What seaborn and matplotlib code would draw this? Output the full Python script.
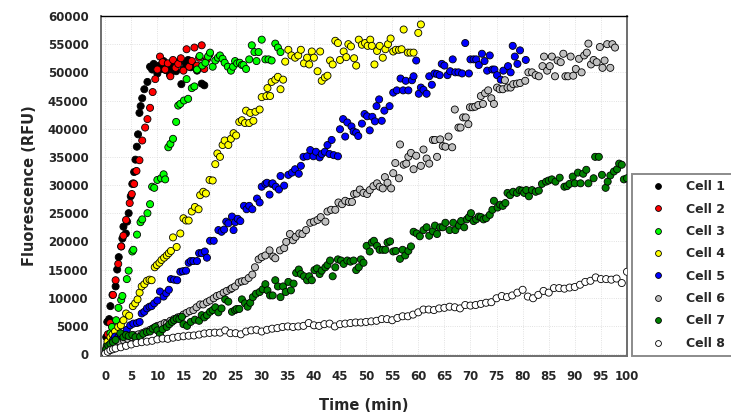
import matplotlib
matplotlib.use("Agg")
import matplotlib.pyplot as plt
import seaborn as sns
import pandas as pd
from matplotlib.lines import Line2D

# ---------------- data ----------------
cell_names = ["Cell 1", "Cell 2", "Cell 3", "Cell 4", "Cell 5", "Cell 6", "Cell 7", "Cell 8"]
cell_colors = ["#000000", "#FF0000", "#00FF00", "#FFFF00", "#0000FF", "#C0C0C0", "#008000", "#FFFFFF"]

cell1_t = [0.2, 0.4, 0.77, 1.0, 1.4, 2.0, 2.3, 2.6, 3.07, 3.3, 3.5, 3.96, 4.2, 4.5, 4.9, 5.2, 5.55, 5.8, 6.07, 6.3,
           6.57, 6.8, 7.1, 7.5, 8.1, 8.6, 9.0, 9.3, 9.6, 10.0, 10.4, 10.8, 11.2, 11.6, 12.0, 12.4, 12.8, 13.2, 13.6,
           14.0, 14.6, 15.0, 15.4, 15.9, 16.4, 17.0, 17.6, 18.5, 19.0]
cell1_v = [3000, 5700, 6200, 8500, 10500, 12000, 15000, 17200, 19100, 20500, 22600, 21400, 23500, 25000, 28000, 30200,
           32300, 34500, 36800, 39000, 42800, 44000, 45400, 47000, 48300, 51000, 50500, 51500, 50800, 49800, 51200,
           50600, 52000, 50400, 51000, 49600, 50800, 51500, 50200, 51800, 47900, 50500, 51600, 52200, 50900, 51300,
           50300, 48000, 47700]

cell2_t = [0.5, 0.96, 1.5, 2.0, 2.5, 3.07, 3.5, 4.0, 4.7, 5.1, 5.4, 5.55, 6.0, 6.57, 7.1, 7.66, 8.1, 8.6, 9.1, 9.6,
           10.0, 10.5, 11.0, 11.5, 12.0, 12.5, 13.0, 13.5, 14.0, 14.5, 15.0, 15.6, 16.1, 16.6, 17.1, 17.6, 18.0, 18.5,
           19.0, 19.5, 20.0]
cell2_v = [3500, 5500, 10500, 13100, 16000, 19100, 21000, 23800, 26800, 28400, 30300, 30200, 32500, 34400, 37900, 40200,
           41700, 43700, 46500, 48800, 50500, 52800, 51800, 50500, 51600, 49300, 52200, 50800, 51500, 52500, 50300,
           54100, 51000, 52000, 54400, 51200, 52600, 54800, 50600, 52300, 53200]

cell3_t = [0.3, 1.0, 1.3, 2.1, 2.55, 3.07, 3.3, 4.15, 4.5, 5.2, 5.4, 6.1, 6.77, 7.1, 8.1, 8.6, 9.0, 9.4, 10.0, 10.7,
           11.2, 11.5, 12.1, 12.5, 13.0, 13.6, 14.0, 14.4, 15.1, 15.6, 15.9, 16.6, 17.1, 17.6, 18.1, 18.6, 19.2, 19.7,
           20.1, 20.6, 21.1, 21.6, 22.0, 22.5, 22.9, 23.5, 24.1, 24.5, 24.9, 25.3, 25.8, 26.2, 26.5, 27.0, 27.6, 28.1,
           28.6, 29.0, 29.4, 30.0, 30.7, 31.3, 31.9, 32.6, 33.1, 33.6]
cell3_v = [1500, 3700, 4800, 6000, 8200, 9600, 10300, 13300, 14800, 18200, 18500, 21200, 23400, 23900, 25000, 26600,
           29700, 29500, 30900, 31200, 31900, 31000, 36700, 37300, 38200, 41200, 44100, 44400, 45000, 48800, 45300,
           47200, 47500, 50500, 52900, 51200, 51700, 52800, 53500, 51000, 52100, 52600, 53000, 52400, 51700, 51000,
           50300, 51000, 52000, 51600, 51700, 51300, 51300, 50600, 52300, 54800, 53600, 52000, 53600, 55800, 52300,
           52300, 52100, 55100, 54400, 53600]

cell4_t = [0.2, 0.44, 1.0, 1.4, 1.9, 2.5, 3.0, 3.5, 4.0, 4.6, 5.3, 5.75, 6.2, 6.6, 7.0, 7.5, 8.0, 8.5, 8.9, 9.5, 9.9,
           10.4, 10.8, 11.3, 11.8, 12.2, 12.6, 13.0, 13.7, 14.4, 15.0, 15.5, 16.0, 16.6, 17.2, 17.9, 18.2, 18.8, 19.3,
           20.0, 20.6, 21.1, 21.5, 22.0, 22.5, 22.9, 23.6, 24.1, 24.6, 25.1, 25.7, 26.2, 26.8, 27.0, 27.6, 27.8, 28.4,
           28.8, 29.6, 30.0, 30.9, 31.1, 31.6, 31.9, 32.6, 33.1, 33.6, 34.1, 34.5, 35.1, 35.7, 36.4, 37.0, 37.5, 38.1,
           38.7, 39.1, 39.6, 40.0, 40.7, 41.2, 41.5, 42.1, 42.6, 43.1, 43.6, 44.1, 44.6, 45.0, 45.7, 46.2, 46.6, 47.1,
           47.7, 48.1, 48.6, 49.2, 49.8, 50.3, 50.8, 51.1, 51.6, 52.1, 52.6, 53.2, 53.7, 54.2, 54.7, 55.2, 55.7, 56.3,
           56.8, 57.2, 58.0, 58.5, 59.1, 60.0, 60.5]
cell4_v = [1000, 2200, 3000, 3500, 4000, 4800, 5100, 6000, 7200, 6800, 8500, 9000, 9700, 10900, 12000, 12400, 13000,
           13200, 13100, 15400, 15800, 16200, 16700, 17100, 17500, 17900, 18300, 20700, 19000, 21400, 24100, 23700,
           23700, 25300, 26100, 25700, 28200, 28800, 28500, 30900, 30800, 33700, 35600, 35000, 37100, 37900, 37100,
           38200, 39200, 38800, 41200, 41500, 41000, 43200, 41000, 42800, 41400, 43000, 43400, 45600, 45800, 47200,
           45800, 48300, 48700, 49200, 47000, 48700, 51900, 54000, 53000, 52600, 53000, 54000, 51600, 52600, 51400,
           53700, 52600, 50200, 53700, 48500, 49100, 49400, 52100, 51400, 55600, 55200, 52200, 53700, 52700, 55000,
           54600, 52500, 51200, 55800, 54900, 55200, 54700, 55800, 54700, 51400, 53800, 54700, 52600, 54100, 55000,
           56000, 53700, 54000, 54000, 54100, 57600, 53500, 53500, 53500, 57000, 58500]

cell5_t = [0.3, 1.0, 1.5, 1.9, 2.5, 3.0, 3.5, 4.15, 4.8, 5.4, 6.1, 6.6, 7.0, 7.5, 8.0, 8.5, 8.9, 9.4, 10.0, 10.5, 11.2,
           11.7, 12.2, 12.6, 13.2, 13.8, 14.4, 14.9, 15.5, 16.0, 16.4, 16.9, 17.6, 18.0, 18.5, 19.1, 19.5, 20.1, 20.8,
           21.7, 22.3, 22.8, 23.2, 23.6, 24.3, 24.6, 24.9, 25.4, 25.9, 26.6, 27.1, 27.6, 28.2, 29.1, 29.6, 30.0, 30.7,
           31.0, 31.5, 31.9, 32.1, 32.7, 33.3, 33.6, 34.3, 35.1, 35.8, 36.4, 37.1, 37.5, 38.0, 38.7, 39.3, 39.9, 40.4,
           41.1, 41.5, 42.1, 42.6, 43.0, 43.4, 43.8, 44.6, 45.0, 45.6, 46.0, 46.4, 47.2, 47.6, 48.1, 48.5, 49.2, 49.7,
           50.2, 50.7, 51.2, 51.7, 52.0, 52.5, 53.0, 53.5, 54.5, 55.2, 55.9, 56.6, 57.1, 57.6, 58.1, 58.8, 59.1, 59.6,
           60.1, 60.5, 61.0, 61.6, 62.1, 62.6, 63.1, 63.6, 64.1, 64.5, 65.0, 65.6, 66.1, 66.6, 67.1, 67.7, 68.4, 69.0,
           69.7, 70.0, 70.6, 71.1, 71.6, 72.2, 72.7, 73.2, 73.7, 74.2, 74.6, 75.1, 75.8, 76.3, 77.2, 77.7, 78.1, 78.5,
           79.0, 79.5, 80.6]
cell5_v = [500, 1600, 2500, 3100, 3000, 3300, 3100, 4300, 5100, 5400, 5500, 5700, 7200, 7500, 8100, 8400, 8500, 9000,
           9500, 11100, 10200, 10800, 11400, 13300, 13200, 13100, 14600, 14700, 14800, 16200, 16500, 16500, 16500,
           17900, 17900, 18200, 17100, 20100, 20100, 22000, 21700, 22100, 23500, 23200, 24400, 22000, 23400, 24000,
           23600, 26300, 25700, 26300, 25700, 27600, 26900, 29700, 30200, 30400, 28300, 30200, 30300, 29700, 29200,
           31600, 29900, 31800, 32200, 32800, 32000, 33400, 35000, 35100, 36200, 35100, 35900, 34900, 35500, 35900,
           37100, 35500, 38000, 35300, 35100, 39900, 41700, 38600, 41100, 40400, 39500, 39300, 38700, 40900, 42600,
           42200, 39700, 42100, 41300, 44000, 45200, 41400, 43200, 44000, 46400, 46800, 48900, 46800, 48500, 46800,
           48600, 49300, 52100, 46200, 47300, 46900, 46200, 49300, 47800, 49800, 49700, 49500, 51500, 51200, 49500,
           50200, 52300, 50000, 50000, 49800, 55200, 49800, 52300, 52300, 52300, 51300, 53300, 52000, 50300, 53000,
           50500, 50500, 49500, 48700, 50300, 51100, 50000, 54700, 52800, 51500, 53900, 52200]

cell6_t = [0.2, 0.8, 1.5, 2.2, 2.9, 3.6, 4.3, 5.0, 5.7, 6.4, 7.1, 7.8, 8.6, 9.3, 10.0, 10.7, 11.4, 11.8, 12.5, 13.2,
           13.9, 14.4, 15.0, 15.6, 16.2, 16.9, 17.5, 18.2, 18.8, 19.5, 20.1, 20.8, 21.4, 22.0, 22.7, 23.3, 24.0, 24.3,
           24.9, 25.6, 26.2, 26.8, 27.5, 28.2, 28.7, 29.4, 30.0, 30.7, 31.5, 32.2, 32.6, 33.5, 34.3, 34.7, 35.4, 36.0,
           36.5, 37.2, 37.8, 38.5, 39.3, 40.0, 40.7, 41.3, 42.2, 42.6, 43.3, 44.1, 44.7, 45.4, 46.0, 46.7, 47.3, 47.7,
           48.2, 48.8, 49.5, 50.2, 50.7, 51.4, 52.1, 52.6, 53.2, 53.6, 54.1, 54.8, 55.2, 55.6, 56.3, 56.5, 57.2, 57.7,
           58.1, 58.6, 59.1, 59.6, 60.5, 61.0, 61.6, 62.1, 62.8, 63.2, 63.6, 64.2, 64.7, 65.2, 65.8, 66.5, 67.0, 67.7,
           68.1, 68.6, 69.1, 69.6, 69.9, 70.4, 70.9, 71.5, 72.0, 72.4, 72.8, 73.4, 74.0, 74.5, 75.1, 75.6, 76.2, 76.6,
           77.1, 77.7, 78.2, 78.9, 79.5, 80.5, 81.1, 81.8, 82.5, 83.1, 83.8, 84.1, 84.7, 85.2, 85.6, 86.2, 86.7, 87.3,
           87.8, 88.2, 88.7, 89.2, 89.7, 90.2, 90.8, 91.3, 91.8, 92.3, 92.6, 93.1, 93.6, 94.2, 94.8, 95.3, 95.7, 96.2,
           96.8, 97.2, 97.7]
cell6_v = [500, 900, 1200, 1600, 2000, 2400, 2700, 3000, 3300, 3500, 3700, 4000, 4300, 4600, 5000, 5200, 5500, 5400,
           5900, 6200, 6500, 6600, 7000, 7300, 7600, 7800, 8300, 8800, 8800, 9200, 9500, 9900, 10300, 10500, 10900,
           11200, 11500, 11700, 12000, 12700, 12900, 13000, 13500, 14100, 15400, 16800, 17200, 17500, 18400, 17300,
           17000, 18400, 18800, 19900, 21300, 20200, 20800, 21400, 21300, 22000, 23300, 23500, 23800, 24300, 23500,
           25300, 25600, 25600, 26900, 26600, 27200, 27000, 27000, 28400, 28500, 29200, 28600, 28400, 29100, 29800,
           30300, 29700, 29400, 31400, 30400, 29400, 32100, 33900, 31200, 37200, 33600, 33800, 35000, 35700, 32800,
           35200, 33400, 36300, 34700, 33800, 38000, 38000, 35000, 38100, 36900, 36800, 38600, 36700, 43400, 40200,
           40200, 42000, 42000, 40800, 43800, 43800, 43900, 44200, 45800, 44400, 46300, 46800, 45400, 44400, 47300,
           47000, 47000, 48600, 47300, 47300, 47900, 48000, 48100, 48500, 50000, 50000, 49500, 49300, 51100, 52800,
           50300, 51100, 52800, 49300, 52100, 51800, 53300, 49300, 49300, 52800, 49400, 50600, 52400, 50000, 53000,
           53500, 55100, 51400, 52200, 51800, 54500, 50800, 52100, 55000, 50800, 55000, 54400]

cell7_t = [0.2, 0.6, 1.0, 1.5, 2.0, 2.9, 3.5, 4.0, 4.5, 5.2, 5.8, 6.7, 7.3, 8.0, 8.6, 9.1, 9.6, 10.0, 10.5, 11.0,
           11.8, 12.3, 12.8, 13.2, 13.7, 14.2, 14.7, 15.0, 15.7, 16.4, 17.2, 18.0, 18.5, 19.0, 19.5, 20.1, 20.6, 21.1,
           21.7, 22.3, 23.0, 23.6, 24.3, 24.9, 25.2, 25.7, 26.2, 26.8, 27.3, 27.8, 28.3, 28.9, 29.6, 30.2, 30.7, 31.1,
           31.6, 32.1, 32.6, 33.1, 33.6, 34.1, 34.6, 35.1, 35.6, 36.1, 36.6, 37.1, 37.5, 38.1, 38.7, 39.1, 39.6, 40.1,
           40.6, 41.1, 41.5, 42.2, 42.6, 43.1, 43.6, 44.1, 44.6, 45.2, 45.7, 46.4, 47.0, 47.6, 48.1, 48.6, 49.0, 49.5,
           50.1, 50.7, 51.1, 51.5, 52.1, 52.6, 53.2, 53.7, 54.1, 54.6, 55.2, 55.7, 56.5, 57.0, 57.5, 58.1, 58.6, 59.1,
           59.7, 60.3, 61.0, 61.6, 62.1, 62.8, 63.2, 63.6, 64.2, 64.7, 65.2, 66.0, 66.7, 67.1, 67.8, 68.2, 68.8, 69.3,
           69.7, 70.1, 70.6, 71.1, 71.6, 72.0, 72.5, 73.0, 73.7, 74.2, 74.5, 75.2, 75.7, 76.2, 76.7, 77.1, 77.6, 78.2,
           78.9, 79.4, 79.9, 80.3, 80.7, 81.2, 81.8, 82.5, 83.1, 83.7, 84.5, 85.0, 85.6, 86.3, 87.1, 88.0, 88.5, 89.0,
           89.6, 90.0, 90.6, 91.1, 91.6, 92.2, 92.6, 93.6, 93.9, 94.6, 95.2, 95.9, 96.3, 96.8, 97.5, 98.1, 98.5, 99.0,
           99.4, 100.0]
cell7_v = [800, 1500, 1800, 2100, 2500, 3700, 3000, 3400, 3200, 3400, 3000, 3100, 3600, 3900, 4000, 4500, 4800, 4200,
           3500, 4400, 4800, 5300, 5700, 6000, 6300, 6200, 6600, 5300, 5000, 5700, 6100, 5900, 6900, 6500, 6900, 7500,
           7800, 8300, 7400, 8100, 9700, 9300, 7500, 7800, 8000, 8000, 9700, 9000, 8400, 9100, 10100, 10700, 11000,
           11500, 12400, 11300, 10400, 10400, 13100, 12000, 10100, 12000, 11000, 12800, 11300, 12500, 14400, 15000,
           14200, 13800, 13100, 13800, 13100, 14900, 15200, 14200, 14800, 15400, 15800, 16600, 13800, 15400, 16800,
           16600, 16000, 16600, 16400, 16600, 14900, 15400, 16800, 16200, 19200, 18200, 19800, 20100, 19200, 18500,
           18500, 18500, 19800, 20000, 18200, 18300, 16900, 18500, 17500, 18300, 19100, 21700, 21400, 20900, 22000,
           22500, 21000, 21800, 22800, 21300, 22500, 22500, 23300, 22000, 23300, 22000, 22800, 23600, 22500, 23900,
           24300, 25000, 23600, 23900, 24400, 24300, 23900, 24100, 24700, 25600, 27200, 26000, 26500, 26300, 26800,
           28600, 28200, 28800, 28600, 29100, 29000, 28600, 29100, 28000, 29100, 28800, 29000, 30200, 30600, 30800,
           31000, 30600, 31300, 29700, 29800, 30200, 31500, 30300, 32200, 30300, 32000, 32700, 30300, 31200, 35000,
           35000, 31800, 29500, 30600, 31700, 32400, 32800, 33800, 33600, 31000, 31200]

cell8_t = [0, 0.5, 1, 1.5, 2, 3, 4, 5, 6, 7, 8, 9, 10, 11, 12, 13, 14, 15, 16, 17, 18, 19, 20, 21, 22, 23, 24, 25,
           26, 27, 28, 29, 30, 31, 32, 33, 34, 35, 36, 37, 38, 39, 40, 41, 42, 43, 44, 45, 46, 47, 48, 49, 50, 51,
           52, 53, 54, 55, 56, 57, 58, 59, 60, 61, 62, 63, 64, 65, 66, 67, 68, 69, 70, 71, 72, 73, 74, 75, 76, 77,
           78, 79, 80, 81, 82, 83, 84, 85, 86, 87, 88, 89, 90, 91, 92, 93, 94, 95, 96, 97, 98, 99, 100]
cell8_v = [100, 400, 700, 850, 1000, 1200, 1450, 1700, 1950, 2100, 2200, 2350, 2600, 2750, 2700, 2900, 3050, 3150,
           3250, 3300, 3450, 3650, 3750, 3800, 3800, 4200, 3700, 3700, 3500, 4000, 4200, 4300, 4000, 4300, 4500, 4600,
           4800, 4900, 4800, 4900, 5000, 5500, 5100, 5000, 5300, 5400, 4900, 5300, 5400, 5500, 5600, 5600, 5700, 5800,
           5900, 6200, 6200, 6000, 6400, 6700, 6700, 7000, 7400, 7900, 7900, 7800, 8100, 8200, 8400, 8300, 8100, 8700,
           8600, 8700, 8900, 9100, 9200, 9900, 10300, 10100, 10400, 10900, 11400, 10200, 9900, 10500, 11200, 10900,
           11700, 11700, 11600, 11800, 11900, 12300, 12800, 13000, 13600, 13300, 13300, 13200, 13400, 12600, 14600]

x_ticks = list(range(0, 101, 5))
y_ticks = list(range(0, 60001, 5000))

# ---------------- build table ----------------
series_t = [cell1_t, cell2_t, cell3_t, cell4_t, cell5_t, cell6_t, cell7_t, cell8_t]
series_v = [cell1_v, cell2_v, cell3_v, cell4_v, cell5_v, cell6_v, cell7_v, cell8_v]
frames = []
for name, tt, vv in zip(cell_names, series_t, series_v):
    n = min(len(tt), len(vv))
    frames.append(pd.DataFrame({"Time": tt[:n], "RFU": vv[:n], "Cell": name}))
df = pd.concat(frames, ignore_index=True)

# ---------------- plot ----------------
sns.set_style("white")
plt.rcParams["font.family"] = ["DejaVu Sans"]
plt.rcParams["font.weight"] = "bold"

fig = plt.figure(figsize=(7.31, 4.17), dpi=100)
ax = fig.add_axes([101 / 731, 1 - 356 / 417, 526 / 731, 340 / 417])

palette = dict(zip(cell_names, cell_colors))
sns.scatterplot(data=df, x="Time", y="RFU", hue="Cell", palette=palette, hue_order=cell_names,
                s=26, edgecolor="black", linewidth=0.6, legend=False, ax=ax, zorder=3)

ax.set_xlim(-0.8, 100)
ax.set_ylim(-350, 60000)
ax.set_xticks(x_ticks)
ax.set_yticks(y_ticks)
ax.set_xticklabels([str(v) for v in x_ticks], fontsize=8.5, fontweight="bold")
ax.set_yticklabels([str(v) for v in y_ticks], fontsize=8.5, fontweight="bold")
ax.tick_params(axis="both", direction="out", length=4, width=1, color="#333333", pad=5)
ax.tick_params(axis="x", pad=6)

ax.grid(True, color="#d8d8d8", linestyle=":", linewidth=0.6, zorder=0)
ax.set_axisbelow(True)

for side in ["left", "bottom", "right"]:
    ax.spines[side].set_color("#6e6e6e")
    ax.spines[side].set_linewidth(1.4)
ax.spines["top"].set_color("black")
ax.spines["top"].set_linewidth(1.0)

ax.set_xlabel("Time (min)", fontsize=10.5, fontweight="bold", labelpad=11)
ax.set_ylabel("Fluorescence (RFU)", fontsize=10.5, fontweight="bold", labelpad=8)

handles = [Line2D([0], [0], marker="o", linestyle="none", markerfacecolor=c, markeredgecolor="black",
                  markeredgewidth=0.6, markersize=4.2) for c in cell_colors]
leg = fig.legend(handles, cell_names, loc="upper left", bbox_to_anchor=(632 / 731, 1 - 174 / 417),
                 frameon=True, fancybox=False, prop={"size": 9, "weight": "bold"},
                 handlelength=3.2, handletextpad=0.65, borderpad=0.5, labelspacing=0.75,
                 borderaxespad=0)
leg.get_frame().set_edgecolor("#6e6e6e")
leg.get_frame().set_linewidth(1.4)

fig.savefig("out.png", dpi=100)
